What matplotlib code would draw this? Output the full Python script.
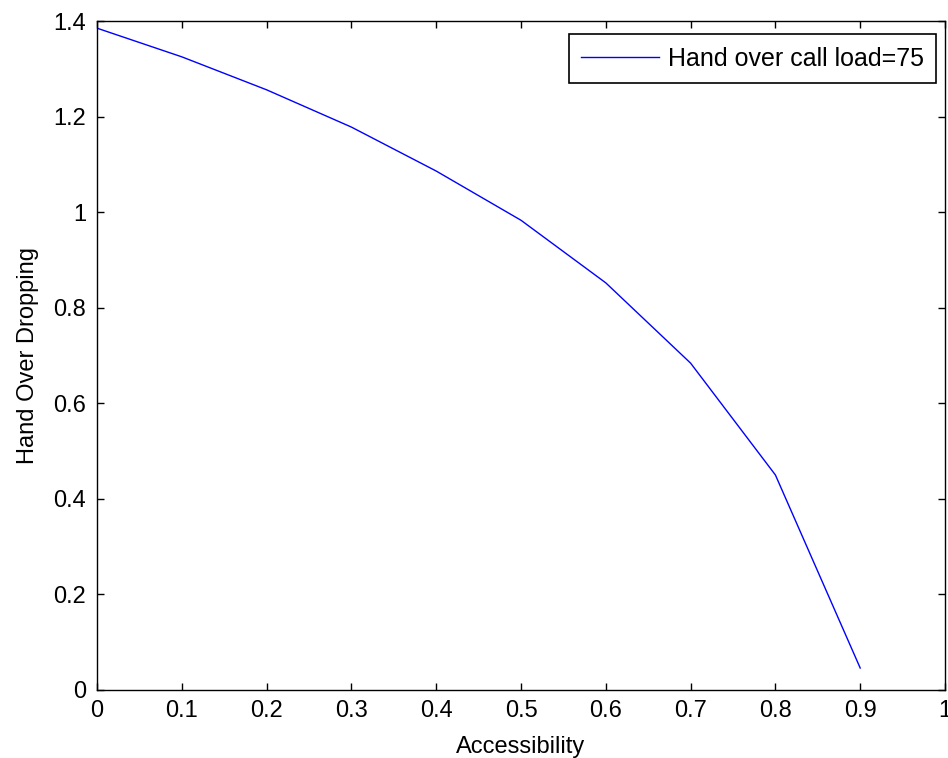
import matplotlib
matplotlib.use("Agg")
import matplotlib.pyplot as plt

accessibility = [0.0, 0.1, 0.2, 0.3, 0.4, 0.5, 0.6, 0.7, 0.8, 0.9]
dropping = [1.385, 1.325, 1.256, 1.178, 1.086, 0.983, 0.852, 0.684, 0.450, 0.046]
series_label = "Hand over call load=75"
x_ticks = [0, 0.1, 0.2, 0.3, 0.4, 0.5, 0.6, 0.7, 0.8, 0.9, 1]
x_tick_labels = ["0", "0.1", "0.2", "0.3", "0.4", "0.5", "0.6", "0.7", "0.8", "0.9", "1"]
y_ticks = [0, 0.2, 0.4, 0.6, 0.8, 1.0, 1.2, 1.4]
y_tick_labels = ["0", "0.2", "0.4", "0.6", "0.8", "1", "1.2", "1.4"]

plt.rcParams["font.family"] = ["Liberation Sans", "DejaVu Sans"]
plt.rcParams["font.size"] = 17

fig = plt.figure(figsize=(9.48, 7.58), dpi=100)
ax = fig.add_axes([97 / 948, 1 - 690 / 758, 848 / 948, 669 / 758])

ax.plot(accessibility, dropping, color="#0000ff", linewidth=1.0, label=series_label)

ax.set_xlim(0, 1)
ax.set_ylim(0, 1.4)
ax.set_xticks(x_ticks)
ax.set_xticklabels(x_tick_labels)
ax.set_yticks(y_ticks)
ax.set_yticklabels(y_tick_labels)
ax.tick_params(direction="in", length=5, width=1, top=True, right=True)
ax.tick_params(axis="y", pad=8)
ax.tick_params(axis="x", pad=7)
for s in ax.spines.values():
    s.set_linewidth(1.0)

ax.set_xlabel("Accessibility", labelpad=10)
ax.set_ylabel("Hand Over Dropping", labelpad=10)

leg = ax.legend(loc="upper right", bbox_to_anchor=(936 / 948, 1 - 34 / 758),
                bbox_transform=fig.transFigure, borderaxespad=0, fancybox=False,
                framealpha=1, edgecolor="black", fontsize=18, handlelength=3.1,
                handletextpad=0.35, borderpad=0.5)
leg.get_frame().set_linewidth(1.2)

fig.savefig("out.png", dpi=100)
